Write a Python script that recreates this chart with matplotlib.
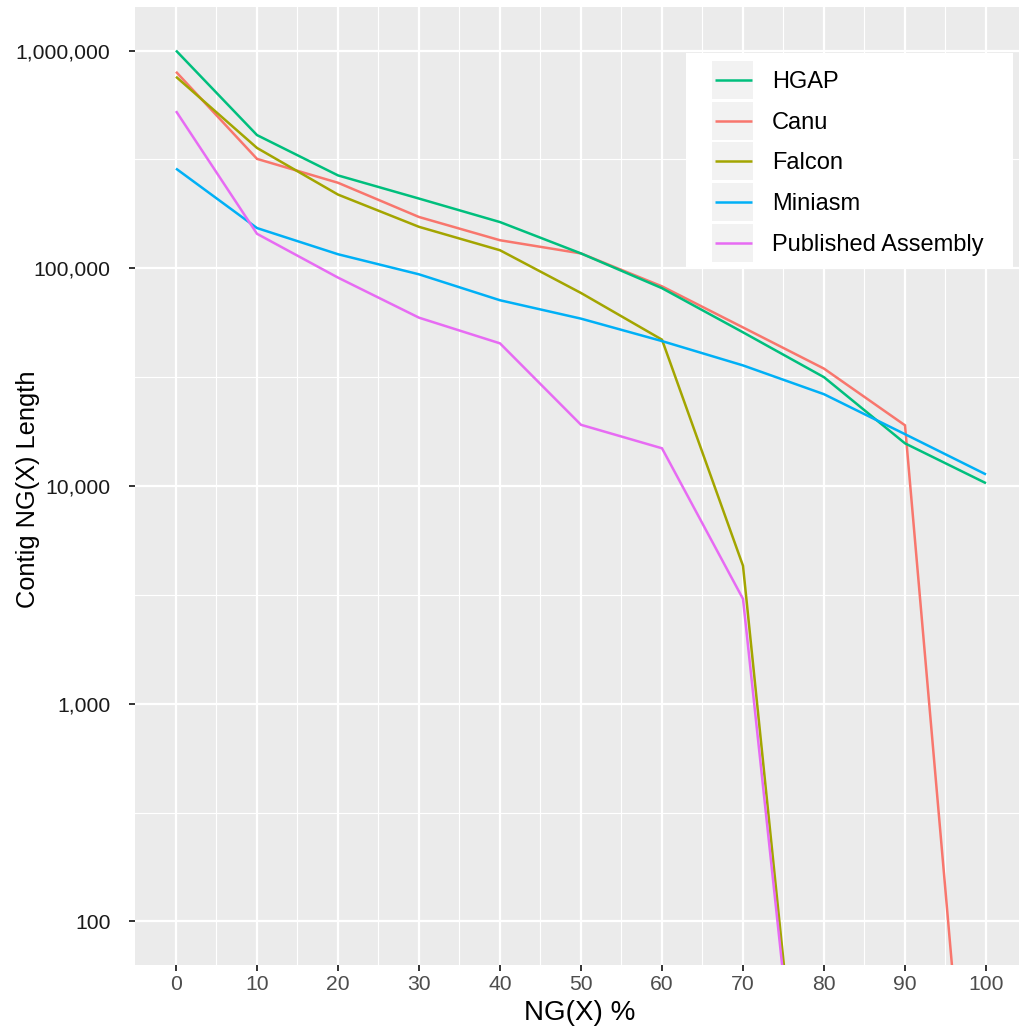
import numpy as np
import matplotlib
matplotlib.use("Agg")
import matplotlib.pyplot as plt
from matplotlib.lines import Line2D
from matplotlib.patches import Rectangle
from matplotlib.ticker import FixedLocator, NullFormatter

plt.rcParams['font.family'] = ['Liberation Sans', 'DejaVu Sans']

# NG(X) curves per assembler
ng_pct = [0, 10, 20, 30, 40, 50, 60, 70, 80, 90, 100]
hgap = [1000000, 409000, 267000, 209000, 163000, 117000, 81000, 50800, 31600, 15700, 10300]
canu = [799000, 318000, 247000, 172000, 134500, 117000, 82600, 53500, 34600, 19000, 1]
falcon = [758000, 357000, 218000, 155000, 121000, 77000, 47000, 4300, 1, 1, 1]
miniasm = [287000, 153000, 116000, 93800, 71300, 58700, 46300, 35800, 26400, 17300, 11300]
published = [527000, 144000, 90600, 59300, 45200, 19100, 14900, 3030, 1, 1, 1]

labels = ["HGAP", "Canu", "Falcon", "Miniasm", "Published Assembly"]
colors = ["#00BF7D", "#F8766D", "#A3A500", "#00B0F6", "#E76BF3"]
series = [hgap, canu, falcon, miniasm, published]

y_ticks = [100, 1000, 10000, 100000, 1000000]
y_labels = ["100", "1,000", "10,000", "100,000", "1,000,000"]
x_ticks = [0, 10, 20, 30, 40, 50, 60, 70, 80, 90, 100]

W, H = 1020, 1028
fig = plt.figure(figsize=(W / 100, H / 100), dpi=100)

def fx(px):
    return px / W

def fy(py):
    return 1 - py / H

# panel: x from -5..105, y from 10^1.8..10^6.2
left, right, top, bottom = 135.5, 1026.5, 7, 965
ax = fig.add_axes([fx(left), fy(bottom), (right - left) / W, (bottom - top) / H])
ax.set_facecolor("#EBEBEB")
for s in ax.spines.values():
    s.set_visible(False)

# draw in reverse so HGAP ends up on top
order = [1, 2, 0, 3, 4]
for i in order:
    ax.plot(ng_pct, series[i], color=colors[i], lw=1.8, solid_capstyle="butt",
            solid_joinstyle="miter", zorder=3)

ax.set_yscale("log")
ax.set_ylim(10 ** 1.8, 10 ** 6.2)
ax.set_xlim(-5, 105)

ax.yaxis.set_major_locator(FixedLocator(y_ticks))
ax.set_yticklabels(y_labels)
ax.yaxis.set_minor_locator(FixedLocator([10 ** (k + 0.5) for k in range(1, 6)]))
ax.yaxis.set_minor_formatter(NullFormatter())
ax.xaxis.set_major_locator(FixedLocator(x_ticks))
ax.xaxis.set_minor_locator(FixedLocator([5 + 10 * k for k in range(10)]))

ax.grid(which="major", color="white", lw=1.6, zorder=1)
ax.grid(which="minor", color="white", lw=0.8, zorder=1)
ax.set_axisbelow(True)

ax.tick_params(which="minor", length=0)
ax.tick_params(axis="y", which="major", length=4, width=1.4, color="#333333",
               labelsize=15.2, labelcolor="#1A1A1A", pad=14)
ax.tick_params(axis="x", which="major", length=4, width=1.4, color="#333333",
               labelsize=15.2, labelcolor="#4D4D4D", pad=3.5)

fig.text(fx(580), fy(1020), "NG(X) %", ha="center", va="baseline", fontsize=20)
fig.text(fx(28), fy(489), "Contig NG(X) Length", ha="center", va="center",
         rotation=90, fontsize=18.3)

# legend box
fig.patches.append(Rectangle((fx(686), fy(268)), (1013 - 686) / W, (268 - 53) / H,
                             transform=fig.transFigure, facecolor="white",
                             edgecolor="none", zorder=5))
row_h = 40.7
for k, (lab, col) in enumerate(zip(labels, colors)):
    cy = 80 + k * row_h
    fig.patches.append(Rectangle((fx(712), fy(cy + 19)), 41 / W, 38 / H,
                                 transform=fig.transFigure, facecolor="#F2F2F2",
                                 edgecolor="none", zorder=6))
    fig.lines.append(Line2D([fx(715), fx(752)], [fy(cy), fy(cy)],
                            transform=fig.transFigure, color=col, lw=1.8,
                            solid_capstyle="butt", zorder=7))
    fig.text(fx(772), fy(cy + 2), lab, ha="left", va="center", fontsize=17,
             color="black", zorder=7)

fig.savefig("out.png", dpi=100)
